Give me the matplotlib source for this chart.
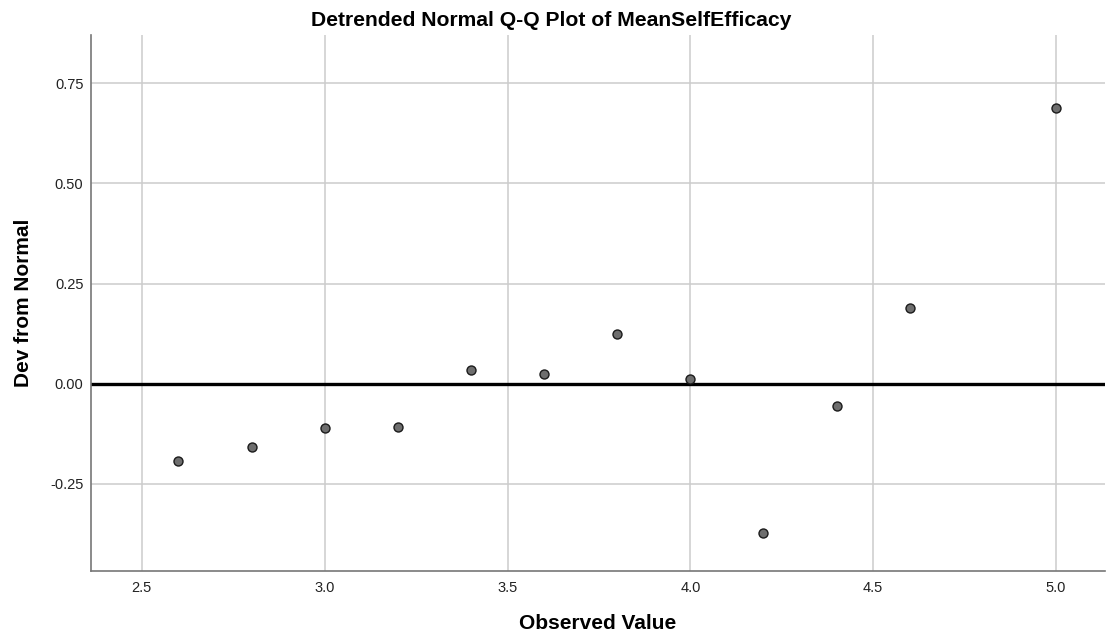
import matplotlib.pyplot as plt

plt.rcParams['font.family'] = ['Liberation Sans', 'DejaVu Sans']

observed = [2.6, 2.8, 3.0, 3.2, 3.4, 3.6, 3.8, 4.0, 4.2, 4.4, 4.6, 5.0]
deviation = [-0.192, -0.157, -0.110, -0.107, 0.035, 0.025, 0.125, 0.012,
             -0.372, -0.055, 0.190, 0.688]

x_ticks = [2.5, 3.0, 3.5, 4.0, 4.5, 5.0]
y_ticks = [-0.25, 0.00, 0.25, 0.50, 0.75]

fig = plt.figure(figsize=(11.13, 6.43), dpi=100)
ax = fig.add_axes([0.0818, 0.112, 0.911, 0.8336])

ax.grid(True, color='#cccccc', linewidth=1.1)
ax.set_axisbelow(True)

ax.axhline(0, color='black', linewidth=2.4, zorder=2)
ax.scatter(observed, deviation, s=42, color='#6e6e6e', edgecolor='#1a1a1a',
           linewidth=1.0, zorder=3)

ax.set_xlim(2.361, 5.134)
ax.set_ylim(-0.467, 0.87)
ax.set_xticks(x_ticks)
ax.set_xticklabels([f'{v:.1f}' for v in x_ticks])
ax.set_yticks(y_ticks)
ax.set_yticklabels([f'{v:.2f}' for v in y_ticks])
ax.tick_params(length=0, labelsize=10.5, colors='#222222')
ax.tick_params(axis='x', pad=7)
ax.tick_params(axis='y', pad=5.5)

for side in ['top', 'right']:
    ax.spines[side].set_visible(False)
for side in ['left', 'bottom']:
    ax.spines[side].set_color('#777777')
    ax.spines[side].set_linewidth(1.2)

ax.set_title('Detrended Normal Q-Q Plot of MeanSelfEfficacy',
             fontsize=15.2, fontweight='bold', pad=6.2, x=0.454)
ax.set_xlabel('Observed Value', fontsize=15, fontweight='bold', labelpad=14)
ax.set_ylabel('Dev from Normal', fontsize=15, fontweight='bold', labelpad=12)

fig.savefig('out.png', dpi=100)
